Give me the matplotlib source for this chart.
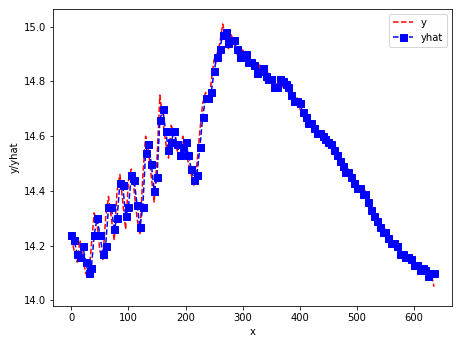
import numpy as np
from matplotlib import pyplot as plt

# values, one every 5 steps
y = [14.23, 14.18, 14.14, 14.22, 14.16, 14.10, 14.08, 14.20, 14.32, 14.28,
     14.18, 14.15, 14.30, 14.38, 14.30, 14.22, 14.40, 14.46, 14.36, 14.26,
     14.44, 14.48, 14.40, 14.30, 14.24, 14.45, 14.60, 14.55, 14.45, 14.36,
     14.52, 14.75, 14.66, 14.58, 14.52, 14.64, 14.60, 14.55, 14.52, 14.60,
     14.56, 14.50, 14.46, 14.42, 14.50, 14.62, 14.72, 14.76, 14.72, 14.80,
     14.88, 14.90, 14.94, 15.01, 14.96, 14.92, 14.97, 14.94, 14.90, 14.88,
     14.92, 14.89, 14.86, 14.88, 14.85, 14.82, 14.86, 14.84, 14.80, 14.83,
     14.80, 14.77, 14.80, 14.82, 14.78, 14.80, 14.76, 14.74, 14.72, 14.74,
     14.70, 14.68, 14.66, 14.64, 14.65, 14.62, 14.60, 14.62, 14.58, 14.60,
     14.56, 14.57, 14.54, 14.52, 14.50, 14.48, 14.46, 14.48, 14.44, 14.42,
     14.40, 14.42, 14.38, 14.40, 14.34, 14.32, 14.30, 14.28, 14.27, 14.24,
     14.26, 14.22, 14.20, 14.21, 14.19, 14.16, 14.18, 14.15, 14.16, 14.14,
     14.12, 14.13, 14.10, 14.12, 14.11, 14.08, 14.10, 14.05]

yhat = [14.24, 14.22, 14.17, 14.16, 14.20, 14.14, 14.10, 14.12, 14.24, 14.30,
        14.24, 14.17, 14.20, 14.34, 14.34, 14.26, 14.30, 14.43, 14.42, 14.31,
        14.34, 14.46, 14.44, 14.35, 14.27, 14.34, 14.54, 14.57, 14.50, 14.40,
        14.45, 14.66, 14.70, 14.62, 14.55, 14.58, 14.62, 14.57, 14.53, 14.56,
        14.58, 14.53, 14.48, 14.44, 14.46, 14.56, 14.67, 14.74, 14.74, 14.76,
        14.84, 14.89, 14.92, 14.97, 14.98, 14.94, 14.95, 14.95, 14.92, 14.89,
        14.90, 14.90, 14.87, 14.87, 14.86, 14.83, 14.84, 14.85, 14.82, 14.81,
        14.81, 14.78, 14.78, 14.81, 14.80, 14.79, 14.78, 14.75, 14.73, 14.73,
        14.72, 14.69, 14.67, 14.65, 14.65, 14.63, 14.61, 14.61, 14.60, 14.59,
        14.58, 14.57, 14.55, 14.53, 14.51, 14.49, 14.47, 14.47, 14.45, 14.43,
        14.41, 14.41, 14.39, 14.39, 14.36, 14.33, 14.31, 14.29, 14.27, 14.25,
        14.25, 14.23, 14.21, 14.21, 14.20, 14.17, 14.17, 14.16, 14.16, 14.15,
        14.13, 14.13, 14.11, 14.12, 14.11, 14.09, 14.10, 14.10]

x = np.arange(len(y)) * 5

fig = plt.figure(figsize=(459 / 72, 343 / 72), dpi=72)
ax = fig.add_axes([0.116, 0.108, 0.869, 0.866])

ax.plot(x, y, 'r--', label='y')
ax.plot(x, yhat, 'b--', marker='s', markersize=7, label='yhat')

ax.set_xlabel('x')
ax.set_ylabel('y/yhat')
ax.set_xticks([0, 100, 200, 300, 400, 500, 600])
ax.set_ylim(13.98, 15.065)
ax.legend(loc='upper right')

fig.savefig('out.png', dpi=72)
